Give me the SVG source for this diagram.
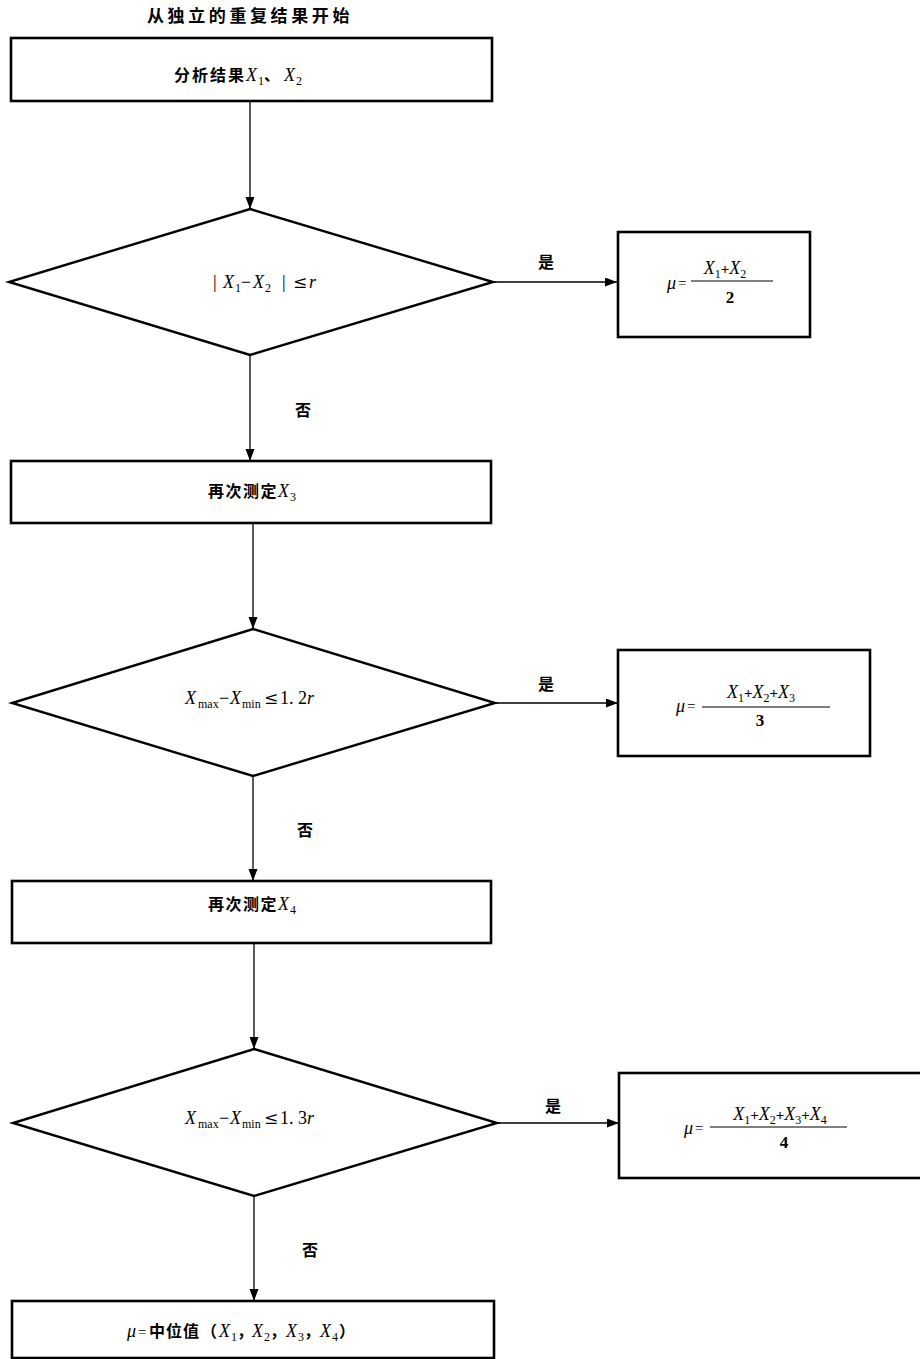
<svg xmlns="http://www.w3.org/2000/svg" width="920" height="1359" viewBox="0 0 920 1359">
<style>
.box{fill:#fff;stroke:#000;stroke-width:2.6}
.dia{fill:#fff;stroke:#000;stroke-width:2.4}
.con{fill:none;stroke:#000;stroke-width:1.3}
.fl{stroke:#000;stroke-width:1.2}
.cn{font-family:"Noto Sans CJK SC","Noto Sans CJK JP",sans-serif;font-weight:700;font-size:16px;fill:#000}
.xi{font-family:"Liberation Serif",serif;font-style:italic;font-size:18px;fill:#000}
.sr{font-family:"Liberation Serif",serif;font-size:18px;fill:#000}
.sb{font-family:"Liberation Serif",serif;font-style:normal;font-size:12px}
.nb{font-family:"Liberation Serif",serif;font-weight:700;font-size:17px;fill:#000}
.le{font-family:"DejaVu Serif","Liberation Serif",serif;font-size:17px;fill:#000}
.pl{font-family:"Liberation Serif",serif;font-weight:700;font-style:normal;font-size:15px}
</style>
<defs>
<marker id="ah" markerUnits="userSpaceOnUse" markerWidth="13" markerHeight="10" refX="12" refY="4.5" orient="auto">
<path d="M0,0 L12,4.5 L0,9 Z" fill="#000"/>
</marker>
</defs>
<rect x="0" y="0" width="920" height="1359" fill="#fff"/>

<text id="title" class="cn" x="147" y="22" style="font-size:17px" letter-spacing="3.6">从独立的重复结果开始</text>

<g id="connectors">
<line class="con" x1="250" y1="101" x2="250" y2="209" marker-end="url(#ah)"/>
<line class="con" x1="493" y1="282" x2="617" y2="282" marker-end="url(#ah)"/>
<line class="con" x1="250" y1="355" x2="250" y2="461" marker-end="url(#ah)"/>
<line class="con" x1="253" y1="523" x2="253" y2="629" marker-end="url(#ah)"/>
<line class="con" x1="495" y1="703" x2="618" y2="703" marker-end="url(#ah)"/>
<line class="con" x1="253" y1="776" x2="253" y2="881" marker-end="url(#ah)"/>
<line class="con" x1="254" y1="943" x2="254" y2="1049" marker-end="url(#ah)"/>
<line class="con" x1="497" y1="1123" x2="619" y2="1123" marker-end="url(#ah)"/>
<line class="con" x1="254" y1="1196" x2="254" y2="1301" marker-end="url(#ah)"/>
<text class="cn" x="546" y="268" text-anchor="middle">是</text>
<text class="cn" x="546" y="690" text-anchor="middle">是</text>
<text class="cn" x="553" y="1112" text-anchor="middle">是</text>
<text class="cn" x="303" y="416" text-anchor="middle">否</text>
<text class="cn" x="305" y="836" text-anchor="middle">否</text>
<text class="cn" x="310" y="1256" text-anchor="middle">否</text>
</g>

<g id="n1">
<rect class="box" x="11" y="38" width="481" height="63"/>
<text y="81"><tspan class="cn" x="174" letter-spacing="2">分析结果</tspan><tspan class="xi" x="246">X</tspan><tspan class="sr sb" x="258" dy="4">1</tspan><tspan class="cn" x="264" dy="-4">、</tspan><tspan class="xi" x="284">X</tspan><tspan class="sr sb" x="296" dy="4">2</tspan></text>
</g>

<g id="d1">
<polygon class="dia" points="250,209 493,282 250,355 9,282"/>
<text y="288"><tspan class="sr" x="213">|</tspan><tspan class="xi" x="223">X</tspan><tspan class="sr sb" x="235" dy="4">1</tspan><tspan class="sr" x="241" dy="-4">−</tspan><tspan class="xi" x="253">X</tspan><tspan class="sr sb" x="265" dy="4">2</tspan><tspan class="sr" x="282" dy="-4">|</tspan><tspan class="le" x="293">≤</tspan><tspan class="xi" x="309">r</tspan></text>
</g>

<g id="r1">
<rect class="box" x="618" y="232" width="192" height="105"/>
<text class="xi" x="667" y="289">μ</text>
<text class="sr" x="678" y="288" style="font-size:15px">=</text>
<line class="fl" x1="691" y1="281" x2="773" y2="281"/>
<text class="xi" x="725" y="274" text-anchor="middle">X<tspan class="sb" dy="4">1</tspan><tspan class="pl" dy="-4">+</tspan>X<tspan class="sb" dy="4">2</tspan></text>
<text class="nb" x="730" y="303" text-anchor="middle">2</text>
</g>

<g id="n3">
<rect class="box" x="11" y="461" width="480" height="62"/>
<text y="497"><tspan class="cn" x="208" letter-spacing="1.5">再次测定</tspan><tspan class="xi" x="278">X</tspan><tspan class="sr sb" x="290" dy="4">3</tspan></text>
</g>

<g id="d2">
<polygon class="dia" points="253,629 495,703 253,776 12,703"/>
<text y="704"><tspan class="xi" x="185">X</tspan><tspan class="sr sb" x="198" dy="4">max</tspan><tspan class="sr" x="219" dy="-4">−</tspan><tspan class="xi" x="230">X</tspan><tspan class="sr sb" x="242" dy="4">min</tspan><tspan class="le" x="264" dy="-4">≤</tspan><tspan class="sr" x="280">1. 2</tspan><tspan class="xi">r</tspan></text>
</g>

<g id="r2">
<rect class="box" x="618" y="650" width="252" height="106"/>
<text class="xi" x="676" y="712">μ</text>
<text class="sr" x="687" y="711" style="font-size:15px">=</text>
<line class="fl" x1="702" y1="707" x2="830" y2="707"/>
<text class="xi" x="761" y="698" text-anchor="middle">X<tspan class="sb" dy="4">1</tspan><tspan class="pl" dy="-4">+</tspan>X<tspan class="sb" dy="4">2</tspan><tspan class="pl" dy="-4">+</tspan>X<tspan class="sb" dy="4">3</tspan></text>
<text class="nb" x="760" y="726" text-anchor="middle">3</text>
</g>

<g id="n5">
<rect class="box" x="12" y="881" width="479" height="62"/>
<text y="910"><tspan class="cn" x="208" letter-spacing="1.5">再次测定</tspan><tspan class="xi" x="278">X</tspan><tspan class="sr sb" x="290" dy="4">4</tspan></text>
</g>

<g id="d3">
<polygon class="dia" points="254,1049 497,1123 254,1196 13,1123"/>
<text y="1124"><tspan class="xi" x="185">X</tspan><tspan class="sr sb" x="198" dy="4">max</tspan><tspan class="sr" x="219" dy="-4">−</tspan><tspan class="xi" x="230">X</tspan><tspan class="sr sb" x="242" dy="4">min</tspan><tspan class="le" x="264" dy="-4">≤</tspan><tspan class="sr" x="280">1. 3</tspan><tspan class="xi">r</tspan></text>
</g>

<g id="r3">
<rect class="box" x="619" y="1073" width="305" height="105"/>
<text class="xi" x="684" y="1134">μ</text>
<text class="sr" x="695" y="1133" style="font-size:15px">=</text>
<line class="fl" x1="710" y1="1127" x2="847" y2="1127"/>
<text class="xi" x="780" y="1120" text-anchor="middle">X<tspan class="sb" dy="4">1</tspan><tspan class="pl" dy="-4">+</tspan>X<tspan class="sb" dy="4">2</tspan><tspan class="pl" dy="-4">+</tspan>X<tspan class="sb" dy="4">3</tspan><tspan class="pl" dy="-4">+</tspan>X<tspan class="sb" dy="4">4</tspan></text>
<text class="nb" x="784" y="1148" text-anchor="middle">4</text>
</g>

<g id="n7">
<rect class="box" x="12" y="1301" width="482" height="57"/>
<text y="1337"><tspan class="xi" x="127">μ</tspan><tspan class="sr" x="138" style="font-size:15px">=</tspan><tspan class="cn" x="149" letter-spacing="1">中位值</tspan><tspan class="cn" x="201">（</tspan><tspan class="xi" x="219">X</tspan><tspan class="sr sb" x="231" dy="4">1</tspan><tspan class="cn" x="237" dy="-4">，</tspan><tspan class="xi" x="252">X</tspan><tspan class="sr sb" x="264" dy="4">2</tspan><tspan class="cn" x="270" dy="-4">，</tspan><tspan class="xi" x="286">X</tspan><tspan class="sr sb" x="298" dy="4">3</tspan><tspan class="cn" x="304" dy="-4">，</tspan><tspan class="xi" x="320">X</tspan><tspan class="sr sb" x="332" dy="4">4</tspan><tspan class="cn" x="339" dy="-4">）</tspan></text>
</g>
</svg>
